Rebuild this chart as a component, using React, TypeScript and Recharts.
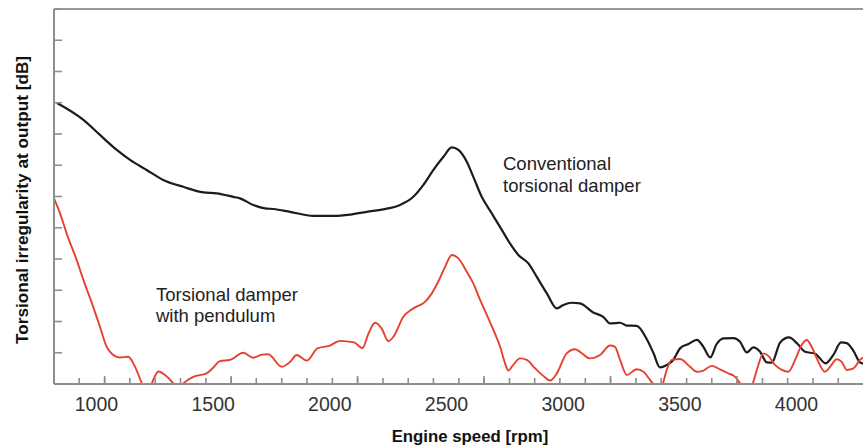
import React from 'react';
import { LineChart, Line, XAxis, YAxis, ReferenceLine } from 'recharts';

// Engine speed [rpm] and torsional irregularity level (one unit per y tick division)
const conventionalRpm = [
  831, 944, 1015, 1087, 1144, 1215, 1286, 1372, 1458, 1515, 1586, 1615, 1672, 1722, 1758, 1830,
  1929, 2015, 2087, 2158, 2229, 2301, 2358, 2401, 2444, 2487, 2523, 2551, 2587, 2615, 2651, 2694,
  2737, 2772, 2808, 2851, 2887, 2930, 2973, 3001, 3037, 3072, 3129, 3172, 3201, 3244, 3273, 3315,
  3358, 3387, 3415, 3444, 3472, 3501, 3537, 3573, 3601, 3630, 3658, 3687, 3730, 3758, 3787, 3815,
  3844, 3873, 3894, 3930, 3968, 4005, 4037, 4080, 4125, 4158, 4191, 4215, 4244, 4272, 4285,
];
const conventionalLevel = [
  8.99, 8.45, 7.97, 7.49, 7.17, 6.85, 6.53, 6.31, 6.13, 6.1, 5.99, 5.94, 5.73, 5.62, 5.6, 5.51,
  5.38, 5.38, 5.42, 5.51, 5.59, 5.73, 5.99, 6.37, 6.85, 7.27, 7.57, 7.49, 7.11, 6.63, 5.99, 5.46,
  4.93, 4.5, 4.13, 3.86, 3.43, 2.9, 2.42, 2.53, 2.6, 2.58, 2.29, 2.15, 1.94, 1.96, 1.87, 1.86,
  1.44, 0.99, 0.53, 0.61, 0.77, 1.14, 1.28, 1.41, 1.19, 0.85, 1.28, 1.46, 1.47, 1.35, 1.01, 1.17,
  1.03, 0.69, 0.68, 1.33, 1.49, 1.28, 1.03, 0.97, 0.66, 0.93, 1.33, 1.31, 1.06, 0.69, 0.65,
];

const pendulumRpm = [
  818, 844, 872, 915, 944, 986, 1015, 1044, 1067, 1087, 1101, 1136, 1158, 1194, 1212, 1237,
  1265, 1294, 1329, 1349, 1372, 1415, 1472, 1499, 1529, 1572, 1629, 1672, 1709, 1736, 1794, 1830,
  1858, 1901, 1947, 1997, 2044, 2104, 2140, 2165, 2194, 2222, 2251, 2275, 2315, 2358, 2408, 2437,
  2465, 2494, 2523, 2551, 2587, 2615, 2644, 2673, 2701, 2730, 2751, 2765, 2786, 2815, 2844, 2880,
  2915, 2944, 2973, 3015, 3051, 3072, 3115, 3158, 3201, 3222, 3244, 3273, 3315, 3344, 3372, 3394,
  3407, 3423, 3444, 3465, 3501, 3544, 3573, 3601, 3637, 3672, 3708, 3737, 3758, 3784, 3808, 3830,
  3858, 3879, 3908, 3937, 3965, 3994, 4022, 4044, 4065, 4087, 4122, 4144, 4172, 4194, 4215, 4244,
  4272, 4285,
];
const pendulumLevel = [
  5.94, 5.46, 4.82, 3.97, 3.33, 2.47, 1.83, 1.19, 0.96, 0.87, 0.85, 0.87, 0.66, 0.02, -0.35, 0.02,
  0.4, 0.29, 0.02, -0.19, 0.02, 0.23, 0.34, 0.51, 0.73, 0.77, 1.0, 0.84, 0.94, 0.95, 0.55, 0.71,
  0.93, 0.75, 1.14, 1.22, 1.38, 1.33, 1.15, 1.6, 1.96, 1.78, 1.37, 1.54, 2.15, 2.42, 2.63, 2.9,
  3.28, 3.75, 4.13, 4.02, 3.59, 3.22, 2.69, 2.21, 1.73, 1.19, 0.66, 0.43, 0.61, 0.82, 0.77, 0.5,
  0.26, 0.11, 0.34, 0.98, 1.11, 1.03, 0.82, 0.93, 1.23, 1.19, 0.77, 0.29, 0.47, 0.39, 0.13, -0.09,
  -0.26, -0.09, 0.45, 0.77, 0.8, 0.55, 0.39, 0.43, 0.58, 0.47, 0.34, 0.23, 0.02, -0.35, -0.09, 0.45,
  0.98, 0.9, 0.61, 0.45, 0.39, 0.77, 1.25, 1.41, 1.19, 0.82, 0.39, 0.55, 0.79, 0.71, 0.45, 0.5,
  0.77, 0.85,
];

const xTickLabels = [1000, 1500, 2000, 2500, 3000, 3500, 4000];
const xMinorTicks = [
  926, 1035, 1143, 1252, 1360, 1469, 1577, 1685, 1794, 1902, 2011, 2119, 2228, 2336, 2444, 2553,
  2661, 2770, 2878, 2986, 3095, 3203, 3312, 3420, 3529, 3637, 3745, 3854, 3962, 4071, 4179,
];
const xMajorTicks = [1035, 1577, 2119, 2661, 3203, 3745];
const yTicks = [0, 1, 2, 3, 4, 5, 6, 7, 8, 9, 10, 11, 12];

const conventionalNote = ['Conventional', 'torsional damper'];
const pendulumNote = ['Torsional damper', 'with pendulum'];
const xTitle = 'Engine speed [rpm]';
const yTitle = 'Torsional irregularity at output [dB]';

const FONT = '"Liberation Sans", Arial, Helvetica, sans-serif';
const AXIS = '#8e8e8e';
const X_DOMAIN: [number, number] = [818, 4285];

const NoLabel = () => <g />;

export default function App() {
  const conventional = conventionalRpm.map((rpm, i) => ({ rpm, level: conventionalLevel[i] }));
  const pendulum = pendulumRpm.map((rpm, i) => ({ rpm, level: pendulumLevel[i] }));

  return (
    <div style={{ position: 'absolute', left: 0, top: 0, width: 863, height: 446, background: '#fff' }}>
      <LineChart
        width={863}
        height={446}
        margin={{ top: 9, right: 0, bottom: 0, left: 54 }}
        style={{ fontFamily: FONT }}
      >
        <XAxis
          xAxisId="minor"
          type="number"
          dataKey="rpm"
          domain={X_DOMAIN}
          allowDataOverflow
          ticks={xMinorTicks}
          interval={0}
          mirror
          height={1}
          tickSize={5}
          tick={NoLabel}
          axisLine={false}
          tickLine={{ stroke: AXIS, strokeWidth: 1.6 }}
        />
        <XAxis
          xAxisId="major"
          type="number"
          dataKey="rpm"
          domain={X_DOMAIN}
          allowDataOverflow
          ticks={xMajorTicks}
          interval={0}
          mirror
          height={1}
          tickSize={8}
          tick={NoLabel}
          axisLine={false}
          tickLine={{ stroke: AXIS, strokeWidth: 1.6 }}
        />
        <XAxis
          xAxisId="main"
          type="number"
          dataKey="rpm"
          domain={X_DOMAIN}
          allowDataOverflow
          ticks={xTickLabels}
          interval={0}
          height={62}
          tickSize={0}
          tickMargin={13}
          tickLine={false}
          axisLine={{ stroke: AXIS, strokeWidth: 2 }}
          tick={{ fill: '#333', fontSize: 19.5, fontFamily: FONT }}
        />
        <YAxis
          yAxisId="y"
          type="number"
          domain={[0, 12]}
          allowDataOverflow
          ticks={yTicks}
          interval={0}
          mirror
          width={1}
          tickSize={8}
          tick={NoLabel}
          axisLine={{ stroke: AXIS, strokeWidth: 2 }}
          tickLine={{ stroke: AXIS, strokeWidth: 1.6 }}
        />
        <ReferenceLine xAxisId="main" yAxisId="y" y={12} stroke="#9a9a9a" strokeWidth={2.2} />
        <Line
          xAxisId="main"
          yAxisId="y"
          data={conventional}
          dataKey="level"
          type="monotone"
          stroke="#1c1c1c"
          strokeWidth={2.2}
          dot={false}
          activeDot={false}
          isAnimationActive={false}
        />
        <Line
          xAxisId="main"
          yAxisId="y"
          data={pendulum}
          dataKey="level"
          type="monotone"
          stroke="#e8402f"
          strokeWidth={1.9}
          dot={false}
          activeDot={false}
          isAnimationActive={false}
        />
        <text x={503} y={170} fontSize={18.5} fill="#222" fontFamily={FONT}>
          <tspan x={503} y={170}>{conventionalNote[0]}</tspan>
          <tspan x={503} y={192}>{conventionalNote[1]}</tspan>
        </text>
        <text x={156} y={301} fontSize={18.5} fill="#222" fontFamily={FONT}>
          <tspan x={156} y={301}>{pendulumNote[0]}</tspan>
          <tspan x={156} y={322}>{pendulumNote[1]}</tspan>
        </text>
        <text x={470} y={442} textAnchor="middle" fontSize={16.8} fontWeight="bold" fill="#111" fontFamily={FONT}>
          {xTitle}
        </text>
        <text
          x={28}
          y={200}
          transform="rotate(-90 28 200)"
          textAnchor="middle"
          fontSize={17.2}
          fontWeight="bold"
          fill="#111"
          fontFamily={FONT}
        >
          {yTitle}
        </text>
      </LineChart>
    </div>
  );
}
